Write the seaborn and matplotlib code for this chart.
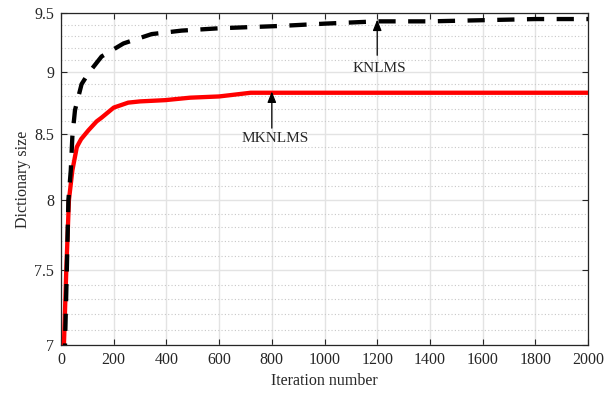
import numpy as np
import pandas as pd
import matplotlib
matplotlib.use("Agg")
import matplotlib.pyplot as plt
from matplotlib.ticker import FixedLocator, NullFormatter
import seaborn as sns

# MKNLMS (red, solid)
mk_iter = [8, 11, 20, 30, 43, 60, 76, 104, 135, 154, 200, 255, 300, 395, 490, 600, 680, 720, 800, 1200, 1600, 2000]
mk_size = [6.9, 7.0, 7.5, 8.0, 8.22, 8.40, 8.46, 8.53, 8.60, 8.63, 8.71, 8.75, 8.76, 8.77, 8.79, 8.80, 8.82, 8.83, 8.83, 8.83, 8.83, 8.83]

# KNLMS (black, dashed)
kn_iter = [12, 15, 22, 28, 37, 43, 53, 78, 104, 154, 237, 344, 458, 600, 831, 1000, 1200, 1400, 1600, 1800, 2000]
kn_size = [6.9, 7.0, 7.5, 8.0, 8.22, 8.48, 8.69, 8.90, 8.99, 9.13, 9.24, 9.32, 9.35, 9.37, 9.39, 9.41, 9.43, 9.43, 9.44, 9.45, 9.45]

y_major = [7, 7.5, 8, 8.5, 9, 9.5]
y_major_labels = ["7", "7.5", "8", "8.5", "9", "9.5"]
x_major = list(range(0, 2001, 200))

sns.set_theme(style="ticks")
plt.rcParams["font.family"] = ["Liberation Serif", "DejaVu Serif"]

fig = plt.figure(figsize=(6.06, 3.94), dpi=100)
ax = fig.add_axes([0.1007, 0.1244, 0.8696, 0.8418])

mk = pd.DataFrame({"iter": mk_iter, "size": mk_size})
kn = pd.DataFrame({"iter": kn_iter, "size": kn_size})

sns.lineplot(data=mk, x="iter", y="size", ax=ax, color="#ff0000", linewidth=3.1, zorder=3)
sns.lineplot(data=kn, x="iter", y="size", ax=ax, color="black", linewidth=3.1,
             linestyle=(0, (4, 2.9)), zorder=4)

ax.set_yscale("log")
ax.set_xlim(0, 2000)
ax.set_ylim(7, 9.5)
ax.yaxis.set_major_locator(FixedLocator(y_major))
ax.set_yticklabels(y_major_labels)
minor = [round(v, 1) for v in np.arange(7.1, 9.45, 0.1) if round(v, 1) not in y_major]
ax.yaxis.set_minor_locator(FixedLocator(minor))
ax.yaxis.set_minor_formatter(NullFormatter())
ax.set_xticks(x_major)

ax.grid(which="major", color="#e3e3e3", linewidth=1.0, linestyle="-", zorder=0)
ax.grid(which="minor", axis="y", color="#c8c8c8", linewidth=0.8, linestyle=(0, (1, 2)), zorder=0)
ax.set_axisbelow(True)

ax.tick_params(which="major", direction="in", length=4, width=0.8, top=True, right=True,
               labelsize=11.5, colors="#262626", pad=5)
ax.tick_params(which="minor", length=0)
for s in ax.spines.values():
    s.set_color("#262626")
    s.set_linewidth(0.9)

ax.set_xlabel("Iteration number", fontsize=11.5, color="#262626", labelpad=4)
ax.set_ylabel("Dictionary size", fontsize=11.5, color="#262626", labelpad=2)

arrow = dict(arrowstyle="-|>,head_length=0.55,head_width=0.22", color="black", lw=0.9,
             shrinkA=0, shrinkB=0)
ax.annotate("", xy=(800, 8.84), xytext=(800, 8.547), arrowprops=arrow)
ax.text(812, 8.515, "MKNLMS", ha="center", va="top", fontsize=11)
ax.annotate("", xy=(1200, 9.445), xytext=(1200, 9.14), arrowprops=arrow, zorder=5)
ax.text(1207, 9.085, "KNLMS", ha="center", va="top", fontsize=11)

fig.savefig("out.png", dpi=100)
